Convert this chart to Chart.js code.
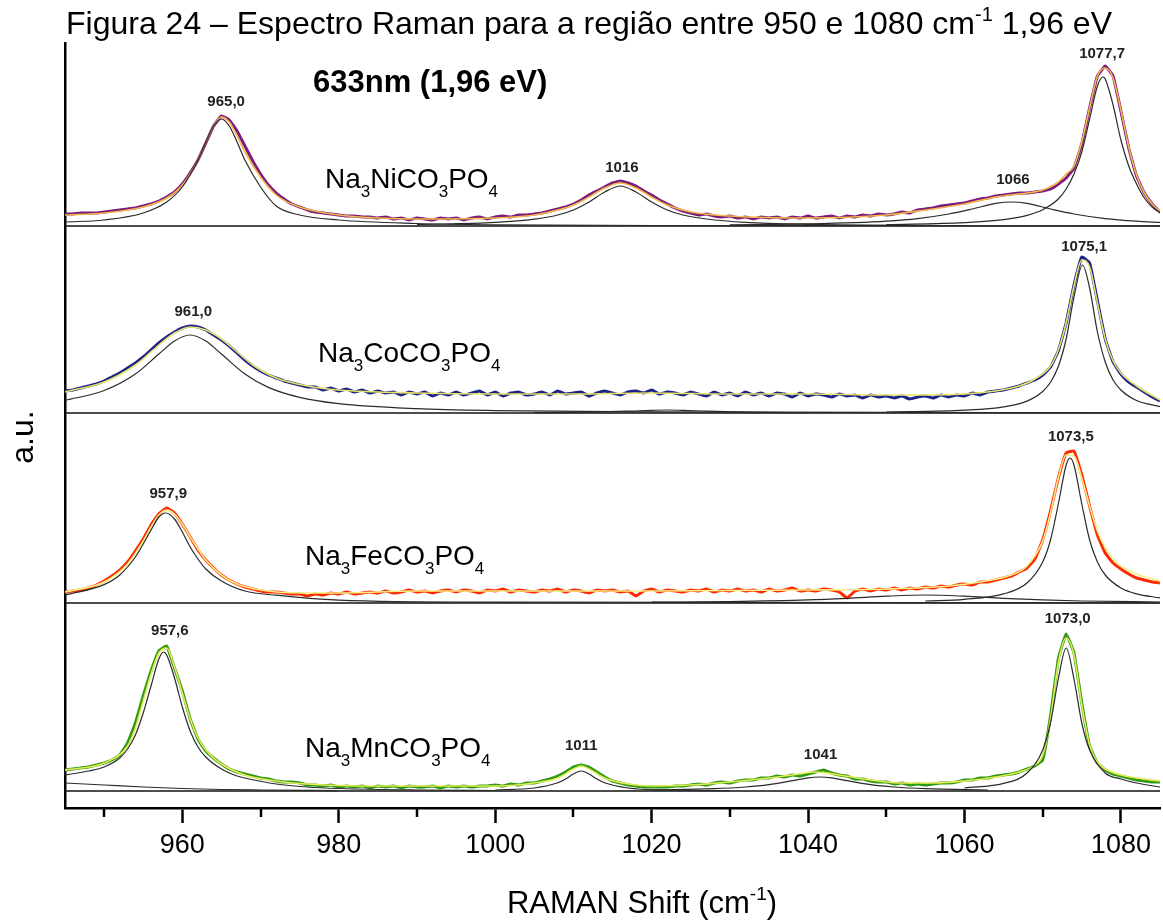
<!DOCTYPE html>
<html><head><meta charset="utf-8">
<script src="https://cdn.jsdelivr.net/npm/chart.js@4.4.1/dist/chart.umd.min.js"></script>
<style>html,body{margin:0;padding:0;background:#fff}#wrap{width:1163px;height:923px;position:relative}</style>
</head><body><div id="wrap"><canvas id="c" width="1163" height="923"></canvas></div>
<script>
// ---------- DATA ----------
const ramanShift = [945,946,947,948,949,950,951,952,953,954,955,956,957,958,959,960,961,962,963,964,965,966,967,968,969,970,971,972,973,974,975,976,977,978,979,980,981,982,983,984,985,986,987,988,989,990,991,992,993,994,995,996,997,998,999,1000,1001,1002,1003,1004,1005,1006,1007,1008,1009,1010,1011,1012,1013,1014,1015,1016,1017,1018,1019,1020,1021,1022,1023,1024,1025,1026,1027,1028,1029,1030,1031,1032,1033,1034,1035,1036,1037,1038,1039,1040,1041,1042,1043,1044,1045,1046,1047,1048,1049,1050,1051,1052,1053,1054,1055,1056,1057,1058,1059,1060,1061,1062,1063,1064,1065,1066,1067,1068,1069,1070,1071,1072,1073,1074,1075,1076,1077,1078,1079,1080,1081,1082,1083,1084,1085];

const niData = [12,12,13,13,13,14,15,16,17,18, 20,22,25,29,34,42,53,66,83,100, 110,106,95,80,65,52,41,33,27,22, 19,16,14,13,12,11,10,10,9,9, 8,9,7,8,6,8,7,6,8,7, 8,6,8,9,7,9,10,9,11,11, 12,13,15,17,19,22,26,31,35,39, 43,45,43,40,35,31,26,22,18,15, 13,11,12,10,9,10,8,9,7,9, 8,9,7,9,8,10,8,9,10,8, 10,9,11,10,12,11,12,14,13,16, 17,18,20,21,22,23,25,27,28,30, 31,32,33,33,34,35,37,42,48,58, 82,118,150,160,150,115,78,50,33,22, 14];
const coData = [22,23,25,27,29,32,36,40,45,50, 56,63,70,76,81,85,87,86,83,78, 73,67,60,53,47,42,38,35,32,30, 28,26,26,23,25,22,24,21,23,20, 22,20,21,18,21,19,21,17,20,18, 21,18,20,22,18,21,17,20,21,18, 19,21,18,22,19,20,21,17,20,22, 20,18,21,22,20,23,19,21,20,18, 21,19,17,21,18,20,17,21,18,20, 17,20,19,16,20,17,19,18,16,19, 17,18,15,18,16,17,15,17,14,16, 17,15,18,16,18,17,20,18,21,22, 23,25,27,30,33,38,46,62,90,128, 156,150,112,74,51,39,31,26,21,16, 12];
const feData = [11,12,13,15,18,22,27,33,41,52, 64,78,89,95,90,79,66,53,43,35, 28,23,19,16,14,12,11,11,10,9, 9,7,9,8,10,9,11,9,10,11, 10,12,10,11,13,11,12,10,12,13, 11,13,12,10,13,12,14,11,13,12, 11,13,12,14,11,13,12,10,13,12, 13,11,12,7,12,14,11,13,12,11, 13,12,14,11,13,12,14,12,13,11, 14,12,13,15,12,13,12,14,13,11, 5,12,14,12,14,13,15,13,15,14, 16,15,17,16,18,19,18,21,21,23, 25,27,31,35,44,63,92,125,150,152, 128,97,68,50,40,34,29,25,23,21, 20];
const mnData = [21,22,23,24,26,28,31,36,48,68, 95,120,140,145,123,100,72,52,40,33, 27,22,19,17,15,13,12,10,9,9, 8,6,6,5,6,4,5,4,5,3, 5,4,5,3,5,4,4,5,3,5, 4,5,4,5,5,6,5,7,6,8, 8,10,12,15,19,24,26,24,19,14, 10,8,6,5,4,4,4,4,5,5, 6,7,6,8,9,8,10,11,11,13, 13,15,14,16,15,17,19,21,18,16, 15,12,12,10,9,9,7,8,6,7, 6,7,8,8,9,11,11,13,13,15, 16,17,19,22,25,31,75,132,157,138, 88,45,28,21,17,15,13,11,10,9, 9];

// fitted envelopes (yellow)
const niFitX = [945,950,955,958,960,962,963,964,965,966,967,968,970,972,975,980,985,990,1000,1005,1008,1010,1012,1014,1016,1018,1020,1022,1025,1030,1040,1050,1055,1060,1064,1068,1070,1072,1073,1074,1075,1076,1077,1078,1079,1080,1081,1082,1083,1084,1085];
const niFitY = [11,13,19,28,41,66,84,100,109,104,90,74,49,31,19,11,8,7,8,11,16,21,29,38,43,38,29,21,14,10,8,11,16,22,29,33,36,44,52,60,84,118,150,158,148,116,79,51,33,22,15];
const coFitX = [945,950,954,957,959,961,963,965,967,969,972,976,980,990,1000,1010,1020,1030,1040,1050,1056,1060,1064,1067,1069,1071,1072,1073,1074,1075,1076,1077,1078,1079,1080,1082,1085];
const coFitY = [21,31,48,68,80,86,83,74,61,48,35,27,23,20,19,19,20,19,19,18,18,19,22,27,34,47,63,90,127,153,146,110,74,52,40,27,13];
const feFitX = [945,950,953,955,956,957,958,959,960,961,962,963,965,967,970,975,980,990,1000,1020,1040,1050,1058,1062,1066,1068,1070,1071,1072,1073,1074,1075,1076,1077,1078,1079,1080,1082,1085];
const feFitY = [11,21,39,62,76,88,93,89,79,66,54,43,28,19,13,10,10,12,12,12,13,14,17,21,28,37,62,90,125,148,147,125,97,72,55,44,37,29,22];
const mnFitX = [945,950,953,954,955,956,957,958,959,960,961,962,963,965,968,972,976,985,1000,1005,1008,1010,1011,1012,1014,1017,1020,1025,1030,1035,1038,1041,1044,1048,1052,1056,1060,1064,1067,1069,1070,1071,1072,1073,1074,1075,1076,1077,1078,1080,1085];
const mnFitY = [21,28,45,63,90,117,138,143,124,98,72,53,41,27,16,10,7,5,5,8,13,22,25,22,13,7,5,6,9,13,16,19,16,11,8,8,10,14,19,26,36,72,128,153,136,86,46,29,22,16,10];

// fitted components (black)
const niC965X = [945,950,955,958,960,962,963,964,965,966,967,968,970,972,975,980,990,1000,1020,1085];
const niC965Y = [4,6,13,24,39,66,84,100,107,100,84,66,39,20,11,6,2.5,1.2,0.5,0.2];
const niC1016X = [990,1000,1005,1008,1010,1012,1014,1016,1018,1020,1022,1024,1027,1032,1040,1060];
const niC1016Y = [1.4,3.6,6.8,11,16,24,34,40,34,24,16,11,7,3.6,1.7,0.5];
const niC1066X = [1030,1040,1046,1050,1054,1058,1061,1064,1066,1068,1071,1074,1078,1082,1085];
const niC1066Y = [1.1,2.1,3.3,4.8,7.4,12,17,22.6,24,22.6,17,12,7.4,4.8,3.6];
const niC1078X = [1050,1060,1065,1068,1070,1072,1073,1074,1075,1076,1077,1077.7,1078,1079,1080,1081,1082,1083,1084,1085];
const niC1078Y = [1.4,3.4,6.4,10.7,16.3,27,37,52,74,107,140,149,147,121,86,60,42,28,19,13];

const coC961X = [945,950,954,957,959,961,963,965,968,971,975,980,990,1000,1020,1085];
const coC961Y = [12.6,22.5,39,59,72,78,72,59,39,25.6,15.6,9.3,4.3,2.4,1.1,0.25];
const coC1022X = [1005,1012,1017,1020,1022,1024,1027,1032,1040];
const coC1022Y = [0.3,0.8,1.8,2.7,3,2.7,1.8,0.8,0.3];
const coC1075X = [1050,1060,1065,1068,1070,1071,1072,1073,1074,1075.1,1076,1077,1078,1079,1080,1082,1085];
const coC1075Y = [1,2.8,6.1,11.9,21.5,30.8,46.5,74,116,148,125,81,51,33,23,12.5,6.4];

const feC958X = [945,950,952,954,955,956,957,957.9,959,960,961,962,963,965,968,972,980,1000,1085];
const feC958Y = [7.9,18.4,28,46,59,73,86,90,84,71,56,44,34,22,12,7.8,2.9,0.8,0.1];
const feC1055X = [1020,1030,1040,1045,1050,1055,1060,1065,1070,1075,1085];
const feC1055Y = [0.8,1.5,3.1,4.7,6.8,8,6.8,4.7,3.1,2,1];
const feC1073X = [1055,1060,1065,1068,1070,1071,1072,1073,1073.5,1074,1075,1076,1077,1078,1080,1082,1085];
const feC1073Y = [2,3.7,9.1,20,41,63,99,138,145,138,99,63,41,28,15,9.1,5.1];

const mnCbgX = [945,950,955,960,965,970,980];
const mnCbgY = [8,6,4,2.5,1.5,1,0.3];
const mnC958X = [945,948,950,952,953,954,955,956,957,957.6,958,959,960,961,962,963,965,967,968,972,976,980,990,1000];
const mnC958Y = [16,20,24,33,42,56,78,105,132,139,136,113,84,60,44,34,22,15,13,7,4,2.5,1,0.5];
const mnC1011X = [1000,1005,1008,1009,1010,1011,1012,1013,1014,1017,1022,1030];
const mnC1011Y = [1,3,8.2,12,17,20,17,12,8.2,3,1,0.3];
const mnC1041X = [1020,1028,1032,1035,1038,1040,1041.5,1043,1045,1048,1051,1055,1063];
const mnC1041Y = [1,2.3,4,6.4,10.4,13.2,14,13.2,10.4,6.4,4,2.3,1];
const mnC1073X = [1060,1065,1068,1070,1071,1072,1073,1074,1075,1076,1078,1080,1082,1085];
const mnC1073Y = [3,7.6,18,41,68,112,143,112,68,41,18,12,8,4];

const xTickValues = [960,980,1000,1020,1040,1060,1080];
const minorTickValues = [950,970,990,1010,1030,1050,1070];

// peak annotations: text, position (cm-1), height above its panel baseline
const niLabels = [['965,0',965.6,124],['1016',1016.2,58],['1066',1066.2,46],['1077,7',1077.6,172]];
const coLabels = [['961,0',961.4,101],['1075,1',1075.3,166]];
const feLabels = [['957,9',958.2,109],['1073,5',1073.6,166]];
const mnLabels = [['957,6',958.4,160],['1011',1011,45],['1041',1041.6,36],['1073,0',1073.2,172]];

// ---------- LAYOUT / STYLE ----------
const FONT = '"Liberation Sans", Arial, Helvetica, sans-serif';
Chart.defaults.font.family = FONT;

const panels = [
  {name:[['Na',0],['3',1],['NiCO',0],['3',1],['PO',0],['4',1]], nameAt:[325,188], base:582, data:niData, color:'#7d1a7d', fitX:niFitX, fitY:niFitY, fitColor:'#f2b84a',
   comps:[[niC965X,niC965Y],[niC1016X,niC1016Y],[niC1066X,niC1066Y],[niC1078X,niC1078Y]], labels:niLabels},
  {name:[['Na',0],['3',1],['CoCO',0],['3',1],['PO',0],['4',1]], nameAt:[318,362], base:395, data:coData, color:'#1b2488', fitX:coFitX, fitY:coFitY, fitColor:'#e9e36a',
   comps:[[coC961X,coC961Y],[coC1022X,coC1022Y],[coC1075X,coC1075Y]], labels:coLabels},
  {name:[['Na',0],['3',1],['FeCO',0],['3',1],['PO',0],['4',1]], nameAt:[305,565], base:205, data:feData, color:'#ff2a00', fitX:feFitX, fitY:feFitY, fitColor:'#f6ef86',
   comps:[[feC958X,feC958Y],[feC1055X,feC1055Y],[feC1073X,feC1073Y]], labels:feLabels},
  {name:[['Na',0],['3',1],['MnCO',0],['3',1],['PO',0],['4',1]], nameAt:[305,757], base:17, data:mnData, color:'#2f9a14', fitX:mnFitX, fitY:mnFitY, fitColor:'#e6ec55',
   comps:[[mnCbgX,mnCbgY],[mnC958X,mnC958Y],[mnC1011X,mnC1011Y],[mnC1041X,mnC1041Y],[mnC1073X,mnC1073Y]], labels:mnLabels}
];

function pts(xs, ys, off){ return xs.map((x,i)=>({x:x, y:ys[i]+off})); }

const datasets = [];
panels.forEach(p=>{
  datasets.push({data:[{x:945,y:p.base},{x:1085,y:p.base}], borderColor:'#111', borderWidth:1.6, order:6, pointRadius:0});
  datasets.push({data:pts(ramanShift,p.data,p.base), borderColor:p.color, borderWidth:3, order:4, pointRadius:0, tension:0.1});
  datasets.push({data:pts(p.fitX,p.fitY,p.base), borderColor:p.fitColor, borderWidth:1.6, order:3, pointRadius:0, cubicInterpolationMode:'monotone'});
  p.comps.forEach(c=>{
    datasets.push({data:pts(c[0],c[1],p.base), borderColor:'#2a2a2a', borderWidth:1.2, order:2, pointRadius:0, cubicInterpolationMode:'monotone'});
  });
});

function drawRuns(ctx, runs, x, y, size, weight, measureOnly){
  let cx = x;
  for (const r of runs){
    const s = r[1]===0 ? size : Math.round(size*0.62);
    const dy = r[1]===1 ? size*0.32 : (r[1]===-1 ? -size*0.42 : 0);
    ctx.font = (weight?weight+' ':'') + s + 'px ' + FONT;
    if(!measureOnly) ctx.fillText(r[0], cx, y+dy);
    cx += ctx.measureText(r[0]).width;
  }
  return cx - x;
}

const textPlugin = {
  id:'texts',
  afterDraw(chart){
    const ctx = chart.ctx, xs = chart.scales.x, ys = chart.scales.y, ca = chart.chartArea;
    ctx.save();
    ctx.fillStyle = '#000'; ctx.strokeStyle = '#000';
    ctx.textBaseline = 'alphabetic'; ctx.textAlign = 'left';
    ctx.lineWidth = 2.5;
    minorTickValues.forEach(v=>{
      const px = Math.round(xs.getPixelForValue(v));
      ctx.beginPath(); ctx.moveTo(px, ca.bottom); ctx.lineTo(px, ca.bottom+9); ctx.stroke();
    });
    drawRuns(ctx, [['Figura 24 – Espectro Raman para a região entre 950 e 1080 cm',0],['-1',-1],[' 1,96 eV',0]], 66, 34, 32);
    drawRuns(ctx, [['633nm (1,96 eV)',0]], 313, 92, 31, 'bold');
    const xr = [['RAMAN Shift (cm',0],['-1',-1],[')',0]];
    const w = drawRuns(ctx, xr, 0, 0, 31, '', true);
    drawRuns(ctx, xr, 642 - w/2, 913, 31);
    ctx.save();
    ctx.translate(24, 437); ctx.rotate(-Math.PI/2);
    ctx.font = '32px ' + FONT; ctx.textAlign = 'center'; ctx.textBaseline = 'middle';
    ctx.fillText('a.u.', 0, 0);
    ctx.restore();
    panels.forEach(p=>{
      ctx.textAlign = 'left'; ctx.textBaseline = 'alphabetic'; ctx.fillStyle = '#000';
      drawRuns(ctx, p.name, p.nameAt[0], p.nameAt[1], 28);
      ctx.font = 'bold 15px ' + FONT; ctx.textAlign = 'center'; ctx.textBaseline = 'middle';
      ctx.fillStyle = '#222';
      p.labels.forEach(l=>{
        ctx.fillText(l[0], xs.getPixelForValue(l[1]), ys.getPixelForValue(p.base + l[2]));
      });
    });
    ctx.restore();
  }
};

new Chart(document.getElementById('c'), {
  type:'line',
  data:{datasets:datasets},
  options:{
    responsive:false, animation:false, devicePixelRatio:1,
    layout:{padding:{top:43, right:3, left:0, bottom:0}},
    plugins:{legend:{display:false}, tooltip:{enabled:false}, title:{display:false}},
    elements:{point:{radius:0}, line:{fill:false}},
    scales:{
      x:{type:'linear', min:945, max:1085,
        afterFit(s){ s.height = 115; },
        afterBuildTicks(s){ s.ticks = xTickValues.map(v=>({value:v})); },
        ticks:{callback:v=>String(v), color:'#000', font:{size:27}, padding:6, maxRotation:0, autoSkip:false},
        grid:{display:true, drawOnChartArea:false, drawTicks:true, tickLength:15, tickWidth:2.5, tickColor:'#000'},
        border:{display:true, color:'#000', width:2.5}
      },
      y:{type:'linear', min:0, max:765,
        afterFit(s){ s.width = 65; },
        ticks:{display:false},
        grid:{display:false},
        border:{display:true, color:'#000', width:2.5}
      }
    }
  },
  plugins:[textPlugin]
});
</script>
</body></html>
